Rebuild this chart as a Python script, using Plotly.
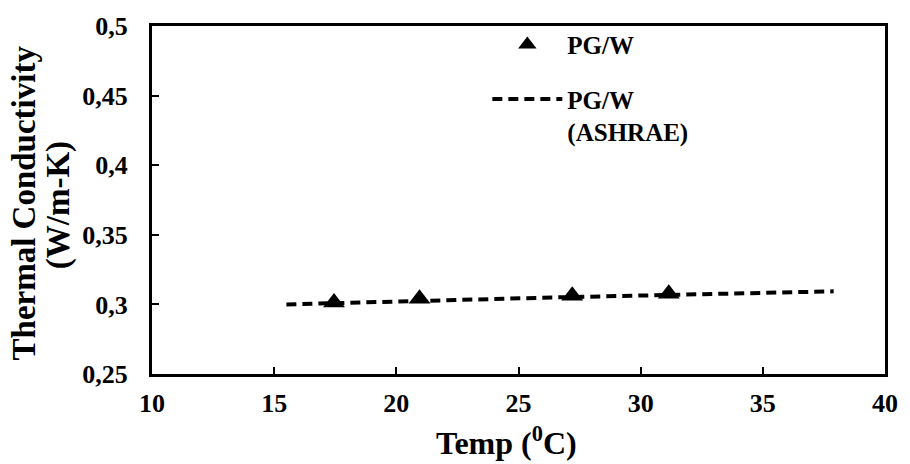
import plotly.graph_objects as go

# Measured data (PG/W)
temp_meas = [17.45, 20.95, 27.2, 31.15]
k_meas = [0.3013, 0.3040, 0.3062, 0.3076]

# ASHRAE correlation line
temp_ashrae = [15.5, 26.5, 37.9]
k_ashrae = [0.3000, 0.3050, 0.3094]

FONT = "Liberation Serif"

fig = go.Figure()
fig.add_trace(go.Scatter(
    x=temp_meas, y=k_meas, mode="markers", name="PG/W",
    marker=dict(symbol="triangle-up", size=19, color="black"),
    legendgroup="a",
))
fig.add_trace(go.Scatter(
    x=temp_ashrae, y=k_ashrae, mode="lines", name="PG/W<br>(ASHRAE)",
    line=dict(color="black", width=4, dash="10px,6px"),
    legendgroup="b",
))

axis_common = dict(
    showline=True, linecolor="black", linewidth=3, mirror=True,
    ticks="inside", ticklen=7, tickwidth=1.5, tickcolor="black",
    showgrid=False, zeroline=False,
    tickfont=dict(family=FONT, size=26, color="black", weight="bold"),
)

fig.update_xaxes(range=[10, 40], dtick=5, tick0=10, ticklabelstandoff=4, **axis_common)
fig.update_yaxes(range=[0.25, 0.5], dtick=0.05, tick0=0.25, ticklabelstandoff=16, **axis_common)

fig.update_layout(
    width=910, height=464,
    margin=dict(l=152, r=24, t=21, b=90),
    paper_bgcolor="white", plot_bgcolor="white",
    separators=",.",
    font=dict(family=FONT, color="black"),
    showlegend=True,
    legend=dict(
        x=0.4575, y=1.012, xanchor="left", yanchor="top",
        font=dict(family=FONT, size=25, color="black", weight="bold"),
        bgcolor="rgba(0,0,0,0)", itemwidth=70, tracegroupgap=19,
        valign="top",
    ),
    annotations=[
        dict(text="<b>Thermal Conductivity</b>", textangle=-90, xref="paper", yref="paper",
             x=0, y=0.49, xanchor="center", yanchor="middle", xshift=-128, showarrow=False,
             font=dict(family=FONT, size=33, color="black")),
        dict(text="<b>(W/m-K)</b>", textangle=-90, xref="paper", yref="paper",
             x=0, y=0.485, xanchor="center", yanchor="middle", xshift=-94, showarrow=False,
             font=dict(family=FONT, size=33, color="black")),
        dict(text="<b>Temp (<sup>0</sup>C)</b>", xref="paper", yref="paper",
             x=(507 - 152) / 734, y=0, xanchor="center", yanchor="middle", yshift=-67,
             showarrow=False, font=dict(family=FONT, size=32, color="black")),
    ],
)

fig.write_html("out.html")
